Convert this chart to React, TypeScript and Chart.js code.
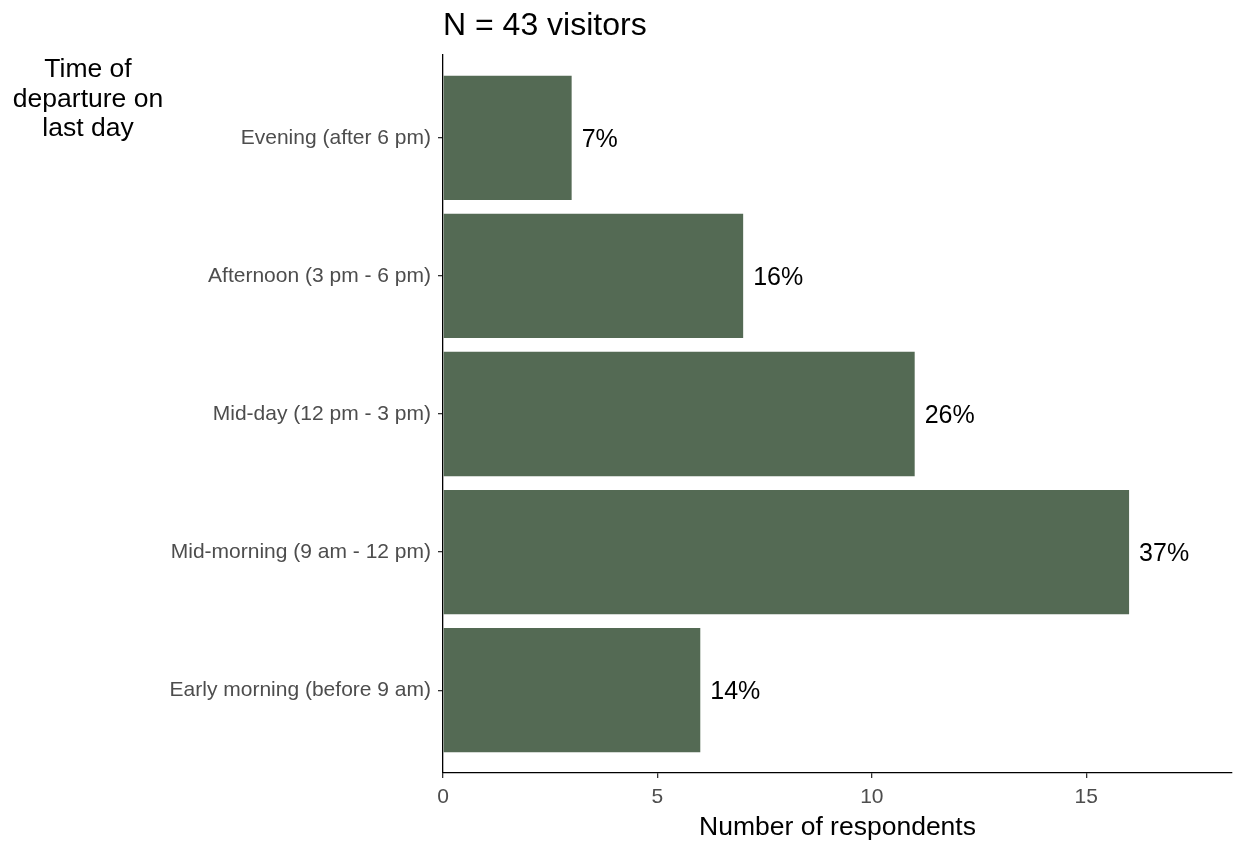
import React, { useEffect, useRef } from "react";
import { Chart, registerables } from "chart.js";

Chart.register(...registerables);

const categories = [
  "Evening (after 6 pm)",
  "Afternoon (3 pm - 6 pm)",
  "Mid-day (12 pm - 3 pm)",
  "Mid-morning (9 am - 12 pm)",
  "Early morning (before 9 am)",
];
const counts = [3, 7, 11, 16, 6];
const percentLabels = ["7%", "16%", "26%", "37%", "14%"];
const xTicks = [0, 5, 10, 15];
const xMax = 18.4;
const titleText = "N = 43 visitors";
const yTitleLines = ["Time of", "departure on", "last day"];
const xTitleText = "Number of respondents";

const FONT = "'Liberation Sans', Arial, sans-serif";

export default function App() {
  const ref = useRef<HTMLCanvasElement | null>(null);

  useEffect(() => {
    document.body.style.margin = "0";
    const canvas = ref.current;
    if (!canvas) return;

    const textPlugin = {
      id: "customText",
      afterDraw(chart: any) {
        const ctx = chart.ctx;
        const area = chart.chartArea;
        const meta = chart.getDatasetMeta(0);
        ctx.save();
        ctx.fillStyle = "#000000";
        ctx.font = `32px ${FONT}`;
        ctx.textAlign = "left";
        ctx.textBaseline = "alphabetic";
        ctx.fillText(titleText, area.left, 35);
        ctx.font = `26.5px ${FONT}`;
        ctx.textAlign = "center";
        yTitleLines.forEach((line, i) => {
          ctx.fillText(line, 88, 77 + i * 29.5);
        });
        ctx.fillText(xTitleText, (area.left + area.right) / 2, 835);
        ctx.font = `25px ${FONT}`;
        ctx.textAlign = "left";
        ctx.textBaseline = "middle";
        meta.data.forEach((bar: any, i: number) => {
          ctx.fillText(percentLabels[i], bar.x + 10, bar.y + 2);
        });
        ctx.restore();
      },
    };

    const chart = new Chart(canvas, {
      type: "bar",
      data: {
        datasets: [
          {
            data: counts.map((c, i) => ({ x: c, y: i })),
            backgroundColor: "#546a54",
            borderWidth: 0,
            barPercentage: 0.9,
            categoryPercentage: 1,
          },
        ],
      },
      options: {
        indexAxis: "y",
        animation: false,
        responsive: false,
        layout: { padding: { top: 55, right: 3, left: 0, bottom: 0 } },
        plugins: {
          legend: { display: false },
          title: { display: false },
          tooltip: { enabled: false },
        },
        scales: {
          x: {
            type: "linear",
            min: 0,
            max: xMax,
            afterBuildTicks: (scale: any) => {
              scale.ticks = xTicks.map((v) => ({ value: v }));
            },
            afterFit: (scale: any) => {
              scale.height = 69;
            },
            grid: {
              display: true,
              drawOnChartArea: false,
              drawTicks: true,
              tickLength: 5,
              color: "#333333",
              lineWidth: 1.3,
            },
            border: { display: true, color: "#000000", width: 1.3 },
            ticks: {
              color: "#4d4d4d",
              font: { family: FONT, size: 21 },
              padding: 7,
              maxRotation: 0,
            },
          },
          y: {
            type: "linear",
            reverse: true,
            offset: false,
            min: -0.6,
            max: categories.length - 1 + 0.6,
            afterBuildTicks: (scale: any) => {
              scale.ticks = categories.map((_, i) => ({ value: i }));
            },
            afterFit: (scale: any) => {
              scale.width = 443;
            },
            grid: {
              display: true,
              offset: false,
              drawOnChartArea: false,
              drawTicks: true,
              tickLength: 5,
              color: "#333333",
              lineWidth: 1.3,
            },
            border: { display: true, color: "#000000", width: 1.3 },
            ticks: {
              color: "#4d4d4d",
              font: { family: FONT, size: 21 },
              padding: 7,
              callback: (value: any) => categories[value as number] ?? "",
            },
          },
        },
      },
      plugins: [textPlugin],
    } as any);

    return () => chart.destroy();
  }, []);

  return (
    <div style={{ width: 1235, height: 842 }}>
      <canvas ref={ref} width={1235} height={842} style={{ display: "block" }} />
    </div>
  );
}
